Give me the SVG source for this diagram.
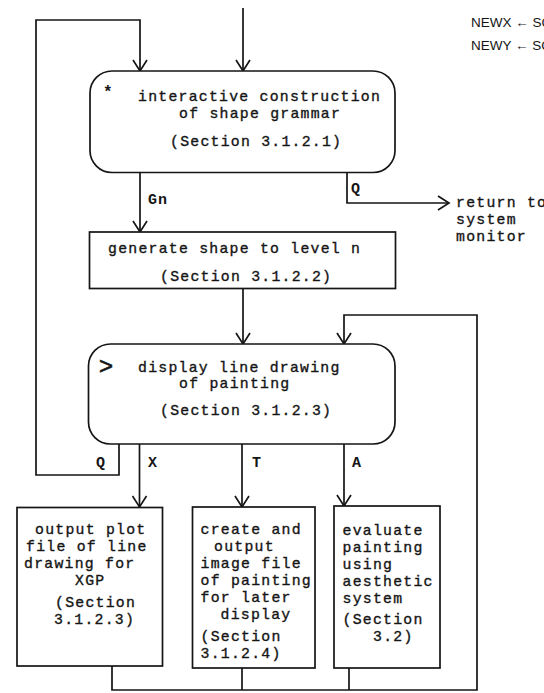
<svg xmlns="http://www.w3.org/2000/svg" width="544" height="693" viewBox="0 0 544 693">
<style>
  .bg { fill: #ffffff; }
  .box { fill: #ffffff; stroke: #151515; stroke-width: 1.7; }
  .wire { fill: none; stroke: #151515; stroke-width: 1.7; }
  .tw { font-family: "Liberation Mono", "Courier New", monospace; font-size: 14.8px; letter-spacing: 1.25px; fill: #151515; stroke: #151515; stroke-width: 0.35; }
  .lbl { font-family: "Liberation Mono", "Courier New", monospace; font-size: 15px; font-weight: bold; letter-spacing: 1px; fill: #151515; }
  .sans { font-family: "Liberation Sans", "DejaVu Sans", sans-serif; font-size: 13.5px; fill: #151515; }
</style>
<defs>
  <marker id="ah" markerUnits="userSpaceOnUse" markerWidth="14" markerHeight="16" viewBox="-12 -8 14 16" refX="0" refY="0" orient="auto">
    <path d="M-11,-7 L0,0 L-11,7" fill="none" stroke="#151515" stroke-width="1.7"/>
  </marker>
</defs>
<rect class="bg" x="0" y="0" width="544" height="693"/>

<g id="connectors">
  <path class="wire" d="M243,8 L243,71" marker-end="url(#ah)"/>
  <path class="wire" d="M119,444 L119,475 L36,475 L36,20 L140,20 L140,71" marker-end="url(#ah)"/>
  <path class="wire" d="M140,172.5 L140,232" marker-end="url(#ah)"/>
  <path class="wire" d="M347,172.5 L347,203 L449,203" marker-end="url(#ah)"/>
  <path class="wire" d="M243,288.5 L243,344" marker-end="url(#ah)"/>
  <path class="wire" d="M139.5,444 L139.5,507" marker-end="url(#ah)"/>
  <path class="wire" d="M242,444 L242,507" marker-end="url(#ah)"/>
  <path class="wire" d="M344,444 L344,506" marker-end="url(#ah)"/>
  <path class="wire" d="M112,666 L112,690 L477,690 L477,315 L344,315 L344,344" marker-end="url(#ah)"/>
  <path class="wire" d="M242,668 L242,690"/>
  <path class="wire" d="M349,668 L349,690"/>
  <text class="lbl" x="148" y="204">Gn</text>
  <text class="lbl" x="351" y="193">Q</text>
  <text class="tw" x="456" y="207">return to</text>
  <text class="tw" x="456" y="224">system</text>
  <text class="tw" x="456" y="241">monitor</text>
  <text class="lbl" x="96" y="467">Q</text>
  <text class="lbl" x="148" y="467">X</text>
  <text class="lbl" x="252" y="467">T</text>
  <text class="lbl" x="352" y="467">A</text>
</g>

<g id="note">
  <text class="sans" x="471" y="27">NEWX ← SC</text>
  <text class="sans" x="471" y="50">NEWY ← SC</text>
</g>

<g id="n1">
  <rect class="box" x="90" y="71" width="305" height="101.5" rx="22" ry="22"/>
  <text x="103" y="97" style="font-family:'Liberation Mono',monospace;font-size:16px;font-weight:bold;fill:#151515">*</text>
  <text class="tw" x="138" y="101">interactive construction</text>
  <text class="tw" x="179" y="118">of shape grammar</text>
  <text class="tw" x="170" y="146">(Section 3.1.2.1)</text>
</g>

<g id="n2">
  <rect class="box" x="89.5" y="232" width="306" height="56.5"/>
  <text class="tw" x="108" y="253">generate shape to level n</text>
  <text class="tw" x="160" y="281">(Section 3.1.2.2)</text>
</g>

<g id="n3">
  <rect class="box" x="88.5" y="344" width="306.5" height="100" rx="22" ry="22"/>
  <text x="99" y="374" style="font-family:'Liberation Sans','DejaVu Sans',sans-serif;font-size:24px;fill:#151515;stroke:#151515;stroke-width:0.6">&gt;</text>
  <text class="tw" x="138" y="372">display line drawing</text>
  <text class="tw" x="179" y="388">of painting</text>
  <text class="tw" x="160" y="415">(Section 3.1.2.3)</text>
</g>

<g id="n4">
  <rect class="box" x="17" y="507.5" width="145.5" height="158.5"/>
  <text class="tw" x="35" y="534">output plot</text>
  <text class="tw" x="26" y="551">file of line</text>
  <text class="tw" x="24" y="568">drawing for</text>
  <text class="tw" x="75" y="585">XGP</text>
  <text class="tw" x="55" y="607">(Section</text>
  <text class="tw" x="54" y="624">3.1.2.3)</text>
</g>

<g id="n5">
  <rect class="box" x="192.5" y="507" width="122.5" height="161"/>
  <text class="tw" x="200.5" y="534">create and</text>
  <text class="tw" x="214" y="551">output</text>
  <text class="tw" x="200.5" y="568">image file</text>
  <text class="tw" x="200.5" y="585">of painting</text>
  <text class="tw" x="200.5" y="602">for later</text>
  <text class="tw" x="220.5" y="619">display</text>
  <text class="tw" x="200.5" y="641">(Section</text>
  <text class="tw" x="200.5" y="658">3.1.2.4)</text>
</g>

<g id="n6">
  <rect class="box" x="334" y="506" width="106" height="162"/>
  <text class="tw" x="342.5" y="534.5">evaluate</text>
  <text class="tw" x="342.5" y="551.5">painting</text>
  <text class="tw" x="342.5" y="568.5">using</text>
  <text class="tw" x="342.5" y="586">aesthetic</text>
  <text class="tw" x="342.5" y="603">system</text>
  <text class="tw" x="342.5" y="624">(Section</text>
  <text class="tw" x="373" y="641">3.2)</text>
</g>
</svg>
